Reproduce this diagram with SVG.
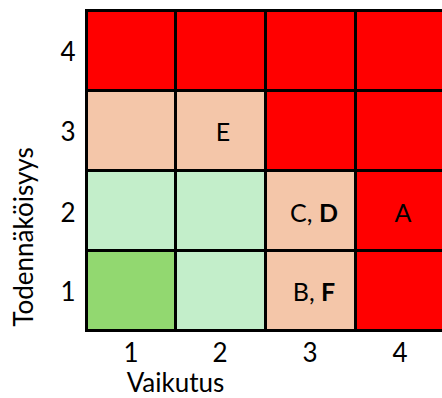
<svg xmlns="http://www.w3.org/2000/svg" width="442" height="398" viewBox="0 0 442 398">
<style>
.cell{stroke:#000;stroke-width:3}
.red{fill:#FF0000}
.peach{fill:#F4C6A9}
.lg{fill:#C3EECA}
.dg{fill:#92D870}
text{font-family:Lato,"Liberation Sans",sans-serif;font-size:25px;fill:#000;text-anchor:middle}
.ax{font-size:26px}
</style>
<rect width="442" height="398" fill="#fff"/>
<g id="grid">
<g id="r4c1"><rect class="cell red" x="86.5" y="10.5" width="89" height="80"/></g>
<g id="r4c2"><rect class="cell red" x="175.5" y="10.5" width="90" height="80"/></g>
<g id="r4c3"><rect class="cell red" x="265.5" y="10.5" width="90" height="80"/></g>
<g id="r4c4"><rect class="cell red" x="355.5" y="10.5" width="90" height="80"/></g>
<g id="r3c1"><rect class="cell peach" x="86.5" y="90.5" width="89" height="80"/></g>
<g id="r3c2"><rect class="cell peach" x="175.5" y="90.5" width="90" height="80"/><text x="223" y="141">E</text></g>
<g id="r3c3"><rect class="cell red" x="265.5" y="90.5" width="90" height="80"/></g>
<g id="r3c4"><rect class="cell red" x="355.5" y="90.5" width="90" height="80"/></g>
<g id="r2c1"><rect class="cell lg" x="86.5" y="170.5" width="89" height="80"/></g>
<g id="r2c2"><rect class="cell lg" x="175.5" y="170.5" width="90" height="80"/></g>
<g id="r2c3"><rect class="cell peach" x="265.5" y="170.5" width="90" height="80"/><text x="314" y="222">C, <tspan font-weight="bold">D</tspan></text></g>
<g id="r2c4"><rect class="cell red" x="355.5" y="170.5" width="90" height="80"/><text x="403" y="222">A</text></g>
<g id="r1c1"><rect class="cell dg" x="86.5" y="250.5" width="89" height="80"/></g>
<g id="r1c2"><rect class="cell lg" x="175.5" y="250.5" width="90" height="80"/></g>
<g id="r1c3"><rect class="cell peach" x="265.5" y="250.5" width="90" height="80"/><text x="314" y="301">B, <tspan font-weight="bold">F</tspan></text></g>
<g id="r1c4"><rect class="cell red" x="355.5" y="250.5" width="90" height="80"/></g>
</g>
<g id="axes">
<text class="ax" x="68" y="61">4</text>
<text class="ax" x="68" y="141">3</text>
<text class="ax" x="68" y="222">2</text>
<text class="ax" x="68" y="301">1</text>
<text class="ax" x="131" y="362">1</text>
<text class="ax" x="220" y="362">2</text>
<text class="ax" x="310" y="362">3</text>
<text class="ax" x="400" y="362">4</text>
<text class="ax" x="175.5" y="392">Vaikutus</text>
<text class="ax" transform="translate(33,237) rotate(-90)">Todennäköisyys</text>
</g>
</svg>
